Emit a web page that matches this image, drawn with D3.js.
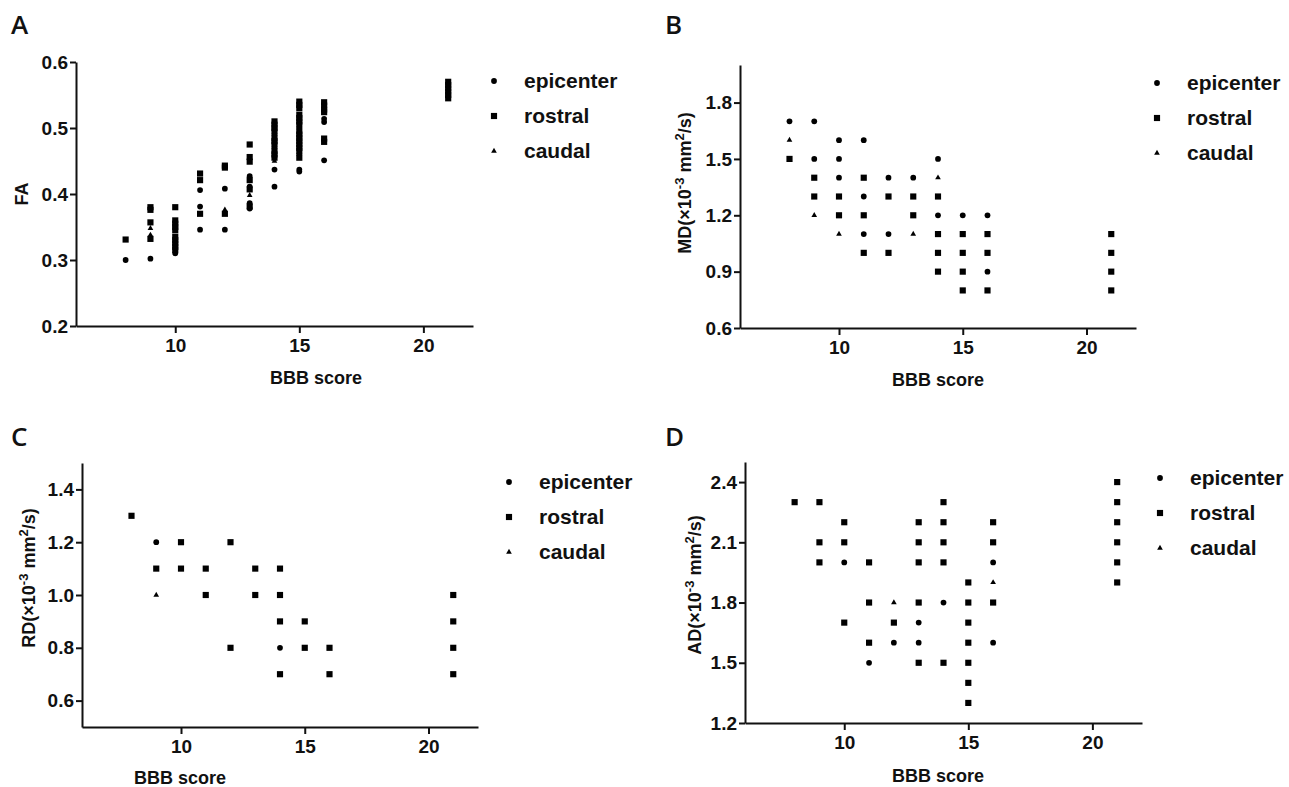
<!DOCTYPE html>
<meta charset="utf-8">
<style>
body { margin: 0; background: #fff; }
svg { display: block; }
.axis path, .axis line { stroke: #111; stroke-width: 2; }
.axis text { font: bold 19px "Liberation Sans", Arial, sans-serif; fill: #111; }
.title { font: bold 18px "Liberation Sans", Arial, sans-serif; fill: #111; }
.legend text { font: bold 21px "Liberation Sans", Arial, sans-serif; fill: #111; }
.letter { font: 600 26px "Open Sans", sans-serif; fill: #111; }
</style>
<svg width="1289" height="787"></svg>
<script src="https://d3js.org/d3.v7.min.js"></script>
<script>

var seriesNames = ["epicenter", "rostral", "caudal"];
var xTicks = [10, 15, 20];

// A: FA
var faEpicenter = [[8,0.30],[9,0.302],[10,0.31],[11,0.406],[11,0.381],[11,0.346],[12,0.408],[12,0.346],
  [13,0.427],[13,0.411],[13,0.386],[13,0.378],[14,0.437],[14,0.411],[14,0.47],[14,0.49],
  [15,0.437],[15,0.434],[15,0.46],[15,0.5],[16,0.514],[16,0.509],[16,0.451]];
var faRostral = [[8,0.331],[9,0.38],[9,0.376],[9,0.357],[9,0.332],[10,0.38],[10,0.36],[10,0.355],[10,0.35],
  [10,0.345],[10,0.335],[10,0.33],[10,0.325],[10,0.32],[10,0.315],[11,0.431],[11,0.421],[11,0.37],
  [12,0.443],[12,0.44],[12,0.37],[13,0.475],[13,0.456],[13,0.449],[13,0.421],[13,0.407],[13,0.381],
  [14,0.51],[14,0.505],[14,0.5],[14,0.495],[14,0.485],[14,0.48],[14,0.475],[14,0.465],[14,0.46],[14,0.455],
  [15,0.54],[15,0.535],[15,0.53],[15,0.52],[15,0.515],[15,0.51],[15,0.505],[15,0.495],[15,0.49],[15,0.485],
  [15,0.48],[15,0.475],[15,0.47],[15,0.465],[15,0.455],[16,0.539],[16,0.534],[16,0.528],[16,0.524],
  [16,0.484],[16,0.479],[21,0.57],[21,0.565],[21,0.56],[21,0.555],[21,0.55],[21,0.545]];
var faCaudal = [[9,0.348],[9,0.338],[12,0.376],[13,0.398],[14,0.45]];

// B: MD
var mdEpicenter = [[8,1.7],[9,1.7],[9,1.5],[10,1.6],[10,1.5],[10,1.4],[11,1.6],[11,1.3],[11,1.1],
  [12,1.4],[12,1.1],[13,1.4],[14,1.5],[14,1.2],[15,1.2],[16,1.2],[16,0.9]];
var mdRostral = [[8,1.5],[9,1.4],[9,1.3],[10,1.3],[10,1.2],[11,1.4],[11,1.2],[11,1.0],[12,1.3],[12,1.0],
  [13,1.3],[13,1.2],[14,1.3],[14,1.1],[14,1.0],[14,0.9],[15,1.1],[15,1.0],[15,0.9],[15,0.8],
  [16,1.1],[16,1.0],[16,0.8],[21,1.1],[21,1.0],[21,0.9],[21,0.8]];
var mdCaudal = [[8,1.6],[9,1.2],[10,1.1],[13,1.1],[14,1.4]];

// C: RD
var rdEpicenter = [[9,1.2],[14,0.8]];
var rdRostral = [[8,1.3],[9,1.1],[10,1.2],[10,1.1],[11,1.1],[11,1.0],[12,1.2],[12,0.8],[13,1.1],[13,1.0],
  [14,1.1],[14,1.0],[14,0.9],[14,0.7],[15,0.9],[15,0.8],[16,0.8],[16,0.7],
  [21,1.0],[21,0.9],[21,0.8],[21,0.7]];
var rdCaudal = [[9,1.0]];

// D: AD
var adEpicenter = [[10,2.0],[11,1.5],[12,1.6],[13,1.7],[13,1.6],[14,1.8],[16,2.0],[16,1.6]];
var adRostral = [[8,2.3],[9,2.3],[9,2.1],[9,2.0],[10,2.2],[10,2.1],[10,1.7],[11,2.0],[11,1.8],[11,1.6],
  [12,1.7],[13,2.2],[13,2.1],[13,2.0],[13,1.8],[13,1.5],[14,2.3],[14,2.2],[14,2.1],[14,2.0],[14,1.5],
  [15,1.9],[15,1.8],[15,1.7],[15,1.6],[15,1.5],[15,1.4],[15,1.3],[16,2.2],[16,2.1],[16,1.8],
  [21,2.4],[21,2.3],[21,2.2],[21,2.1],[21,2.0],[21,1.9]];
var adCaudal = [[12,1.8],[16,1.9]];

var svg = d3.select("svg");

var shapes = [d3.symbolCircle, d3.symbolSquare, d3.symbolTriangle];
var sizes = [26, 38, 14];

var panels = [
  {letter: "A", lx: 11, ly: 34, x0: 76, x1: 473, y0: 326, y1: 62, dom: [0.2, 0.6],
   ticks: [0.2, 0.3, 0.4, 0.5, 0.6], label: "FA", labX: 28, labY: 194, xlabX: 316, xlabY: 384,
   series: [faEpicenter, faRostral, faCaudal], legX: 494, legY: 81},
  {letter: "B", lx: 665, ly: 34, x0: 740, x1: 1136, y0: 328, y1: 65, dom: [0.6, 2.0],
   ticks: [0.6, 0.9, 1.2, 1.5, 1.8], label: "MD", labX: 691, labY: 183, xlabX: 938, xlabY: 386,
   series: [mdEpicenter, mdRostral, mdCaudal], legX: 1157, legY: 83},
  {letter: "C", lx: 11, ly: 446, x0: 82, x1: 478, y0: 727, y1: 463, dom: [0.5, 1.5],
   ticks: [0.6, 0.8, 1.0, 1.2, 1.4], label: "RD", labX: 35, labY: 578, xlabX: 180, xlabY: 784,
   series: [rdEpicenter, rdRostral, rdCaudal], legX: 509, legY: 482},
  {letter: "D", lx: 665, ly: 446, x0: 745, x1: 1142, y0: 723, y1: 462, dom: [1.2, 2.5],
   ticks: [1.2, 1.5, 1.8, 2.1, 2.4], label: "AD", labX: 701, labY: 585, xlabX: 938, xlabY: 782,
   series: [adEpicenter, adRostral, adCaudal], legX: 1160, legY: 478}
];

panels.forEach(function(p) {
  var x = d3.scaleLinear().domain([6, 22]).range([p.x0, p.x1]);
  var y = d3.scaleLinear().domain(p.dom).range([p.y0, p.y1]);

  svg.append("text").attr("class", "letter").attr("x", p.lx).attr("y", p.ly).text(p.letter);

  svg.append("g").attr("class", "axis")
      .attr("transform", "translate(0," + p.y0 + ")")
      .call(d3.axisBottom(x).tickValues(xTicks).tickSize(7).tickSizeOuter(0).tickPadding(6));

  svg.append("g").attr("class", "axis")
      .attr("transform", "translate(" + p.x0 + ",0)")
      .call(d3.axisLeft(y).tickValues(p.ticks).tickFormat(d3.format(".1f")).tickSize(6).tickSizeOuter(0).tickPadding(2));

  // y title, with superscripts for the diffusivity units
  var t = svg.append("text").attr("class", "title")
      .attr("text-anchor", "middle")
      .attr("transform", "translate(" + p.labX + "," + p.labY + ") rotate(-90)");
  t.append("tspan").text(p.label);
  if (p.label != "FA") {
    t.append("tspan").text("(\u00d710");
    t.append("tspan").attr("dy", -7).attr("font-size", 13).text("-3");
    t.append("tspan").attr("dy", 7).text(" mm");
    t.append("tspan").attr("dy", -7).attr("font-size", 13).text("2");
    t.append("tspan").attr("dy", 7).text("/s)");
  }

  svg.append("text").attr("class", "title")
      .attr("text-anchor", "middle")
      .attr("x", p.xlabX).attr("y", p.xlabY)
      .text("BBB score");

  p.series.forEach(function(pts, i) {
    svg.append("g").selectAll("path")
      .data(pts)
      .enter().append("path")
        .attr("transform", function(d) { return "translate(" + x(d[0]) + "," + y(d[1]) + ")"; })
        .attr("d", d3.symbol().type(shapes[i]).size(sizes[i]))
        .attr("fill", "#000");
  });

  var leg = svg.append("g").attr("class", "legend");
  seriesNames.forEach(function(name, i) {
    var yy = p.legY + i * 35;
    leg.append("path")
      .attr("transform", "translate(" + p.legX + "," + yy + ")")
      .attr("d", d3.symbol().type(shapes[i]).size(sizes[i]))
      .attr("fill", "#000");
    leg.append("text").attr("x", p.legX + 30).attr("y", yy + 7).text(name);
  });
});

</script>
